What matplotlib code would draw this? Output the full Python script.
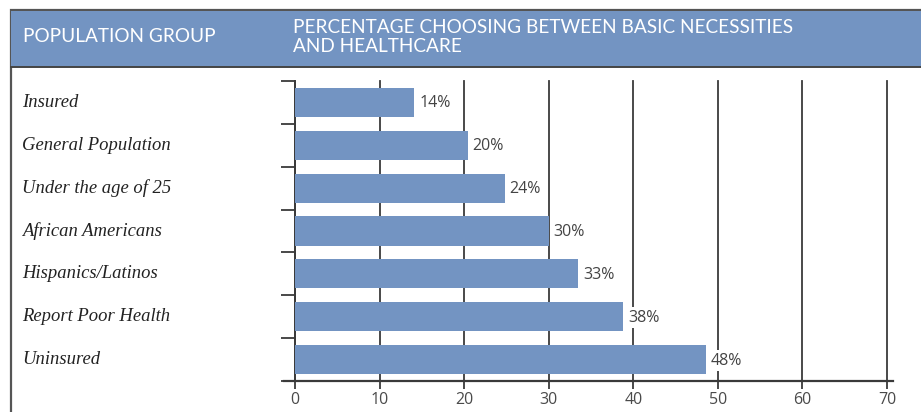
import matplotlib
matplotlib.use("Agg")
import matplotlib.pyplot as plt
from matplotlib.patches import Rectangle
from matplotlib.lines import Line2D
from matplotlib.transforms import offset_copy, blended_transform_factory

categories = ["Insured", "General Population", "Under the age of 25",
              "African Americans", "Hispanics/Latinos", "Report Poor Health", "Uninsured"]
# bar lengths; printed labels as shown
values = [14.1, 20.4, 24.8, 30.0, 33.5, 38.8, 48.6]
value_labels = ["14%", "20%", "24%", "30%", "33%", "38%", "48%"]
x_ticks = [0, 10, 20, 30, 40, 50, 60, 70]
header_left = "POPULATION GROUP"
header_right = "PERCENTAGE CHOOSING BETWEEN BASIC NECESSITIES\nAND HEALTHCARE"

BLUE = "#7394C2"
DARK = "#3a3a3a"
TXT = "#444444"

W, H = 921, 412
fig = plt.figure(figsize=(W / 100, H / 100), dpi=100)

def fx(px):
    return px / W

def fy(py):
    return 1 - py / H

# outer border and header band
fig.patches.append(Rectangle((fx(11), fy(420)), fx(930) - fx(11), fy(10) - fy(420),
                             transform=fig.transFigure, facecolor="none",
                             edgecolor="#555555", lw=1.6, zorder=0))
fig.patches.append(Rectangle((fx(11), fy(67)), fx(930) - fx(11), fy(11) - fy(67),
                             transform=fig.transFigure, facecolor=BLUE,
                             edgecolor="none", zorder=1))
fig.lines.append(Line2D([fx(11), fx(930)], [fy(67), fy(67)], transform=fig.transFigure,
                        color="#444444", lw=1.4, zorder=2))

hfont = dict(family="Lato", weight="normal", color="white", fontsize=13.7)
fig.text(fx(23), fy(37), header_left, ha="left", va="center", **hfont)
fig.text(fx(293), fy(37), header_right, ha="left", va="center", linespacing=1.08, **hfont)

ax = fig.add_axes([fx(295), fy(381), fx(887) - fx(295), fy(81) - fy(381)])
ax.set_zorder(5)
ax.set_facecolor("none")
ypos = list(range(len(categories)))
ax.barh(ypos, values, height=0.68, color=BLUE, zorder=3)
ax.set_xlim(0, 70)
ax.set_ylim(len(categories) - 0.5, -0.5)

ax.set_xticks(x_ticks)
ax.set_xticklabels([str(t) for t in x_ticks])
ax.xaxis.grid(True, color=DARK, lw=1.3, zorder=1)
ax.set_axisbelow(True)
for gl in ax.get_xgridlines():
    gl.set_clip_on(False)
ax.tick_params(axis="x", direction="out", length=6, width=1.3, color=DARK,
               labelsize=11.5, labelcolor="#4a4a4a", pad=2)
for lab in ax.get_xticklabels():
    lab.set_family("Open Sans")

bounds = [i - 0.5 for i in range(len(categories) + 1)]
ax.set_yticks(bounds)
ax.set_yticklabels([])
ax.tick_params(axis="y", direction="out", length=10, width=1.3, color=DARK)

for s in ["top", "right", "bottom"]:
    ax.spines[s].set_visible(False)
ax.spines["left"].set_color(DARK)
ax.spines["left"].set_linewidth(1.3)

# extended bottom axis line
ax.add_line(Line2D([-11 / 592, 1 + 6 / 592], [0, 0], transform=ax.transAxes,
                   color=DARK, lw=1.6, clip_on=False, zorder=4))

# value labels
for y, v, lab in zip(ypos, values, value_labels):
    ax.text(v, y, lab, transform=offset_copy(ax.transData, fig=fig, x=5, y=-1, units="dots"),
            ha="left", va="center", fontsize=11.5, color=TXT, family="Open Sans",
            bbox=dict(facecolor="white", edgecolor="none", pad=2.0), zorder=5)

# category labels
tr = blended_transform_factory(fig.transFigure, ax.transData)
for y, c in zip(ypos, categories):
    ax.text(fx(22), y, c, transform=tr, ha="left", va="center", fontsize=13.4,
            style="italic", family="Liberation Serif", color="#222222")

fig.savefig("out.png", dpi=100)
